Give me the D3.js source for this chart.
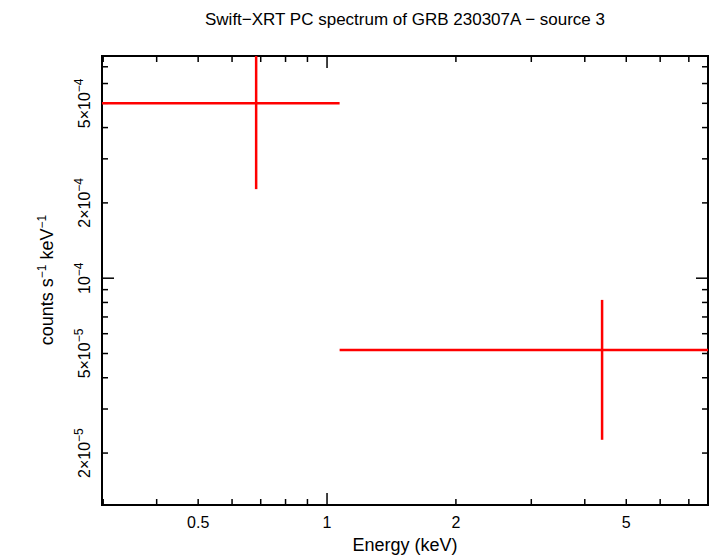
<!DOCTYPE html><html><head><script src="https://cdn.jsdelivr.net/npm/d3@7"></script>
<style>body{margin:0;background:#fff}text{font-family:"Liberation Sans",Arial,sans-serif}</style></head><body>
<svg id="c" width="710" height="556"></svg>
<script>
const energy=[0.683,4.39], eLo=[0.25,1.07], eHi=[1.07,10];
const flux=[5.0e-4,5.17e-5], fLo=[2.27e-4,2.26e-5], fHi=[7.8e-4,8.19e-5];
const xTickVals=[0.5,1,2,5], xTickLabels=["0.5","1","2","5"];
const yTickVals=[2e-5,5e-5,1e-4,2e-4,5e-4];
const yTickLabels=[["2×10","−5"],["5×10","−5"],["10","−4"],["2×10","−4"],["5×10","−4"]];
const L=102,R=708,T=56,B=505;
const x=d3.scaleLog().domain([0.2981,7.76]).range([L,R]);
const y=d3.scaleLog().domain([1.24e-5,7.73e-4]).range([B,T]);
const svg=d3.select("#c");
const g=svg.append("g").attr("stroke","#000").attr("stroke-width",1.5);
const xm=[0.3,0.4,0.5,0.6,0.7,0.8,0.9,1,2,3,4,5,6,7];
xm.forEach(v=>{const l=v===1?12:6;const px=x(v);
 g.append("line").attr("x1",px).attr("x2",px).attr("y1",B).attr("y2",B-l);
 g.append("line").attr("x1",px).attr("x2",px).attr("y1",T).attr("y2",T+l);});
const ym=[2e-5,3e-5,4e-5,5e-5,6e-5,7e-5,8e-5,9e-5,1e-4,2e-4,3e-4,4e-4,5e-4,6e-4,7e-4];
ym.forEach(v=>{const l=v===1e-4?12:6;const py=y(v);
 g.append("line").attr("x1",L).attr("x2",L+l).attr("y1",py).attr("y2",py);
 g.append("line").attr("x1",R).attr("x2",R-l).attr("y1",py).attr("y2",py);});
svg.append("rect").attr("x",L).attr("y",T).attr("width",R-L).attr("height",B-T).attr("fill","none").attr("stroke","#000").attr("stroke-width",2);
xTickVals.forEach((v,i)=>svg.append("text").attr("x",x(v)).attr("y",528).attr("text-anchor","middle").attr("font-size",16).text(xTickLabels[i]));
yTickVals.forEach((v,i)=>{const t=svg.append("text").attr("transform",`translate(90,${y(v)}) rotate(-90)`).attr("text-anchor","middle").attr("font-size",16);
 t.append("tspan").text(yTickLabels[i][0]);t.append("tspan").attr("dy",-7).attr("font-size",12).text(yTickLabels[i][1]);});
svg.append("text").attr("x",405).attr("y",551).attr("text-anchor","middle").attr("font-size",18).text("Energy (keV)");
const yl=svg.append("text").attr("transform","translate(53,280) rotate(-90)").attr("text-anchor","middle").attr("font-size",18);
yl.append("tspan").text("counts s");yl.append("tspan").attr("dy",-7).attr("font-size",12).text("−1");
yl.append("tspan").attr("dy",7).text(" keV");yl.append("tspan").attr("dy",-7).attr("font-size",12).text("−1");
svg.append("text").attr("x",405).attr("y",25).attr("text-anchor","middle").attr("font-size",17).text("Swift−XRT PC spectrum of GRB 230307A − source 3");
const clip=svg.append("clipPath").attr("id","cp").append("rect").attr("x",L).attr("y",T).attr("width",R-L).attr("height",B-T);
const d=svg.append("g").attr("clip-path","url(#cp)").attr("stroke","#f00").attr("stroke-width",2.5);
energy.forEach((e,i)=>{
 d.append("line").attr("x1",x(eLo[i])).attr("x2",x(eHi[i])).attr("y1",y(flux[i])).attr("y2",y(flux[i]));
 d.append("line").attr("x1",x(e)).attr("x2",x(e)).attr("y1",y(fLo[i])).attr("y2",y(fHi[i]));});
</script></body></html>
